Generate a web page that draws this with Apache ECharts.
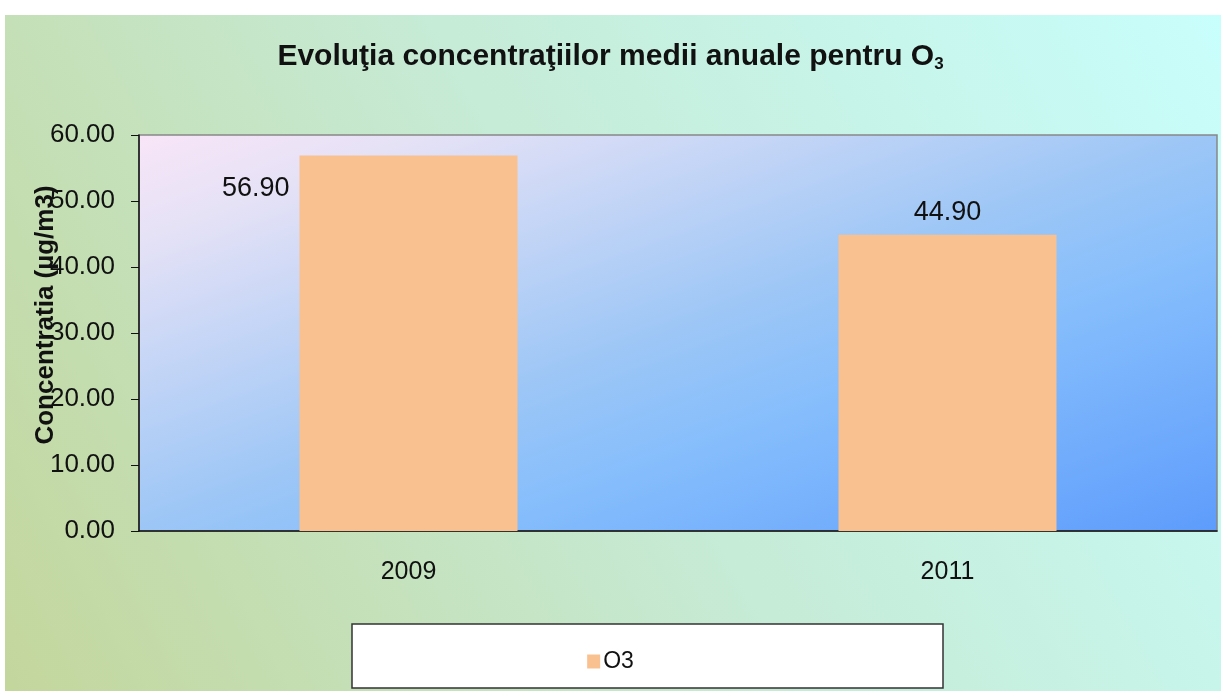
<!DOCTYPE html>
<html>
<head>
<meta charset="utf-8">
<script src="https://cdn.jsdelivr.net/npm/echarts@6/dist/echarts.min.js"></script>
<style>
html, body { margin: 0; padding: 0; background: #ffffff; }
#chart { width: 1221px; height: 691px; }
</style>
</head>
<body>
<div id="chart"></div>
<script>
var years = ['2009', '2011'];
var o3Values = [56.9, 44.9];
var yTicks = { min: 0, max: 60, interval: 10 };

var font = '"Liberation Sans", Arial, sans-serif';
var myChart = echarts.init(document.getElementById('chart'));

var option = {
    animation: false,
    textStyle: { fontFamily: font },
    graphic: [
        {
            // fundalul diagramei
            type: 'rect', z: -10, silent: true,
            shape: { x: 5, y: 15, width: 1216, height: 676 },
            style: {
                fill: new echarts.graphic.LinearGradient(0, 1, 1, 0, [
                    { offset: 0, color: '#c3d69c' },
                    { offset: 0.5, color: '#c6ebd6' },
                    { offset: 1, color: '#c8fefc' }
                ])
            }
        },
        {
            // caseta legendei
            type: 'rect', z: -5, silent: true,
            shape: { x: 352, y: 624, width: 591, height: 64 },
            style: { fill: '#ffffff', stroke: '#333333', lineWidth: 1.5 }
        }
    ],
    title: {
        text: 'Evoluţia concentraţiilor medii anuale pentru O{sub|3}',
        left: 'center',
        top: 35,
        textStyle: {
            fontSize: 30,
            fontWeight: 'bold',
            color: '#111',
            fontFamily: font,
            rich: {
                sub: { fontSize: 17, fontWeight: 'bold', color: '#111', verticalAlign: 'bottom', padding: [16, 0, 0, 0] }
            }
        }
    },
    legend: {
        data: ['O3'],
        left: 'center',
        top: 645,
        icon: 'rect',
        itemWidth: 13,
        itemHeight: 14,
        itemGap: 5,
        textStyle: { fontSize: 23, color: '#111', fontFamily: font, padding: [0, 0, 0, -2] }
    },
    grid: {
        left: 139,
        right: 4,
        top: 135,
        bottom: 160,
        show: true,
        borderColor: '#888',
        borderWidth: 1.5,
        backgroundColor: new echarts.graphic.LinearGradient(0, 0, 0.238, 1.76, [
            { offset: 0, color: '#f9e5f8' },
            { offset: 0.13, color: '#e6e2f6' },
            { offset: 0.5, color: '#9cc6f6' },
            { offset: 0.65, color: '#86befc' },
            { offset: 1, color: '#5e9cfc' }
        ])
    },
    xAxis: {
        type: 'category',
        data: years,
        axisLine: { lineStyle: { color: '#111', width: 1.5 } },
        axisTick: { length: 9, lineStyle: { color: '#111' } },
        axisLabel: { fontSize: 25, color: '#111', margin: 29, fontFamily: font }
    },
    yAxis: {
        type: 'value',
        min: yTicks.min,
        max: yTicks.max,
        interval: yTicks.interval,
        name: 'Concentratia (µg/m3)',
        nameLocation: 'middle',
        nameGap: 80,
        nameMoveOverlap: false,
        nameTextStyle: {
            fontSize: 26, fontWeight: 'bold', color: '#111', fontFamily: font,
            padding: [0, 0, 0, 36]
        },
        splitLine: { show: false },
        axisLine: { show: true, lineStyle: { color: '#111', width: 1.5 } },
        axisTick: { show: true, length: 8, lineStyle: { color: '#111' } },
        axisLabel: {
            fontSize: 26, color: '#111', margin: 24, fontFamily: font,
            formatter: function (v) { return v.toFixed(2); }
        }
    },
    series: [
        {
            name: 'O3',
            type: 'bar',
            barWidth: 218,
            itemStyle: { color: '#f9c090' },
            label: {
                show: true,
                fontSize: 27,
                color: '#111',
                fontFamily: font,
                formatter: function (p) { return p.value.toFixed(2); }
            },
            data: [
                { value: o3Values[0], label: { position: [-10, 33], align: 'right', verticalAlign: 'middle' } },
                { value: o3Values[1], label: { position: 'top', distance: 9 } }
            ]
        }
    ]
};
myChart.setOption(option);
</script>
</body>
</html>
